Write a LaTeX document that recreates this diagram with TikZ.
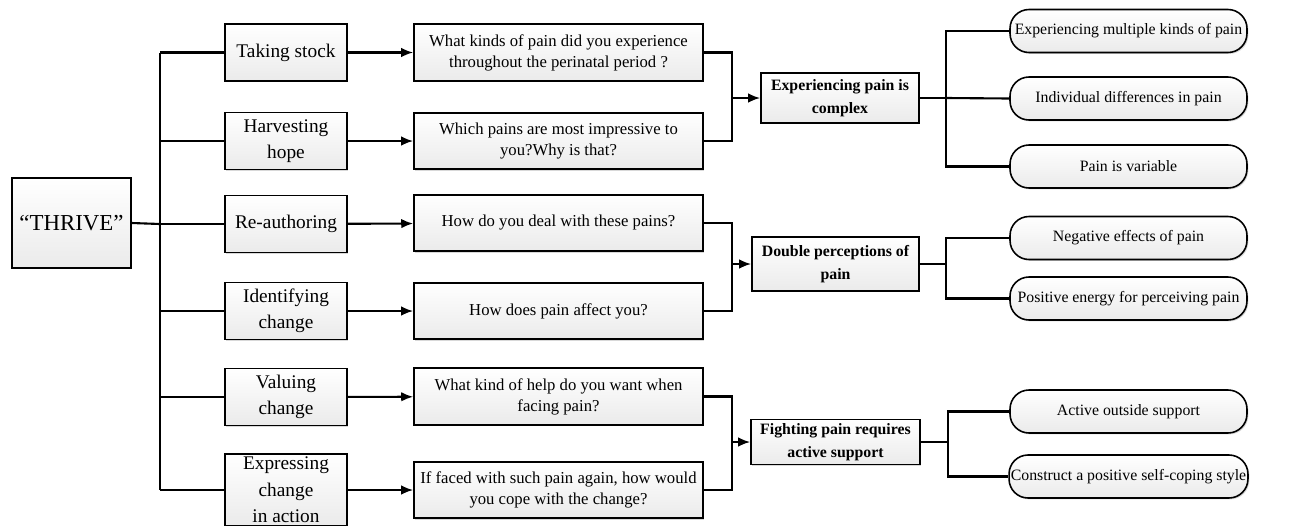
\documentclass[tikz,border=0pt]{standalone}
\usepackage{fontspec}
\setmainfont{Liberation Serif}
\usetikzlibrary{arrows.meta,shadows}

\tikzset{
  box/.style={draw, line width=0.9pt, top color=white, bottom color=black!8, align=center, inner sep=1pt,
    drop shadow={shadow xshift=0.8pt, shadow yshift=-0.8pt, opacity=0.3}},
  stagebox/.style={box, minimum width=2.44cm, minimum height=1.14cm, font=\fontsize{11}{15}\selectfont},
  askbox/.style={box, minimum width=5.78cm, minimum height=1.13cm, font=\fontsize{9.5}{12}\selectfont},
  themebox/.style={box, minimum height=1cm, font=\bfseries\fontsize{9}{13}\selectfont},
  resultbox/.style={box, rounded corners=0.38cm, minimum width=4.74cm, minimum height=0.86cm, font=\fontsize{9}{11}\selectfont},
  link/.style={line width=1.2pt},
}

\begin{document}
\begin{tikzpicture}[>={Latex[length=2.4mm,width=1.9mm]}, x=0.02cm, y=-0.02cm]

\useasboundingbox[fill=white] (0,0) rectangle (1299,525);

% root
\node[box, minimum width=2.38cm, minimum height=1.8cm, font=\fontsize{13}{15}\selectfont] (thrive) at (71.5,223) {“THRIVE”};

% THRIVE stages
\node[stagebox] (tk) at (286,52.5) {Taking stock};
\node[stagebox] (hh) at (286,141) {Harvesting\\hope};
\node[stagebox] (ra) at (286,224) {Re-authoring};
\node[stagebox] (ic) at (286,311) {Identifying\\change};
\node[stagebox] (vc) at (286,397) {Valuing\\change};
\node[stagebox, minimum height=1.44cm] (ec) at (286,490) {Expressing\\change\\in action};

% interview questions
\node[askbox] (q1) at (558.5,52.5) {What kinds of pain did you experience\\throughout the perinatal period ?};
\node[askbox] (q2) at (558.5,141) {Which pains are most impressive to\\you?Why is that?};
\node[askbox] (q3) at (558.5,223) {How do you deal with these pains?};
\node[askbox] (q4) at (558.5,311) {How does pain affect you?};
\node[askbox] (q5) at (558.5,396.5) {What kind of help do you want when\\facing pain?};
\node[askbox] (q6) at (558.5,490) {If faced with such pain again, how would\\you cope with the change?};

% themes
\node[themebox, minimum width=3.16cm] (e1) at (840,98) {Experiencing pain is\\complex};
\node[themebox, minimum width=3.34cm, minimum height=1.08cm] (e2) at (835.5,264) {Double perceptions of\\pain};
\node[themebox, minimum width=3.38cm, minimum height=0.9cm] (e3) at (835.5,442) {Fighting pain requires\\active support};

% subthemes
\node[resultbox] (o1) at (1128.5,31) {Experiencing multiple kinds of pain};
\node[resultbox] (o2) at (1128.5,98.5) {Individual differences in pain};
\node[resultbox] (o3) at (1128.5,166.5) {Pain is variable};
\node[resultbox] (o4) at (1128.5,238) {Negative effects of pain};
\node[resultbox] (o5) at (1128.5,298.5) {Positive energy for perceiving pain};
\node[resultbox] (o6) at (1128.5,411.5) {Active outside support};
\node[resultbox] (o7) at (1128.5,476.5) {Construct a positive self-coping style};

% junctions
\coordinate (tr) at (160,224);
\coordinate (j1) at (732,98);
\coordinate (j2) at (732,264);
\coordinate (j3) at (732,442);
\coordinate (k1) at (946,98);
\coordinate (k2) at (946,264);
\coordinate (k3) at (948,442);

% trunk
\draw[link] (thrive.east) -- (tr);
\draw[link] (tk.west -| tr) -- (ec.west -| tr);
\foreach \s in {tk,hh,ra,ic,vc,ec}
  \draw[link] (\s.west -| tr) -- (\s.west);

% stages to questions
\foreach \s/\q in {tk/q1,hh/q2,ra/q3,ic/q4,vc/q5,ec/q6}
  \draw[link,->] (\s) -- (\q);

% questions to themes
\draw[link] (q1.east) -| (j1) |- (q2.east);
\draw[link] (q3.east) -| (j2) |- (q4.east);
\draw[link] (q5.east) -| (j3) |- (q6.east);
\draw[link,->] (j1) -- (e1.west);
\draw[link,->] (j2) -- (e2.west);
\draw[link,->] (j3) -- (e3.west);

% themes to subthemes
\draw[link] (e1.east) -- (k1);
\draw[link] (o1.west) -| (k1) |- (o3.west);
\draw[link] (k1) -- (o2.west);
\draw[link] (e2.east) -- (k2);
\draw[link] (o4.west) -| (k2) |- (o5.west);
\draw[link] (e3.east) -- (k3);
\draw[link] (o6.west) -| (k3) |- (o7.west);

\end{tikzpicture}
\end{document}
